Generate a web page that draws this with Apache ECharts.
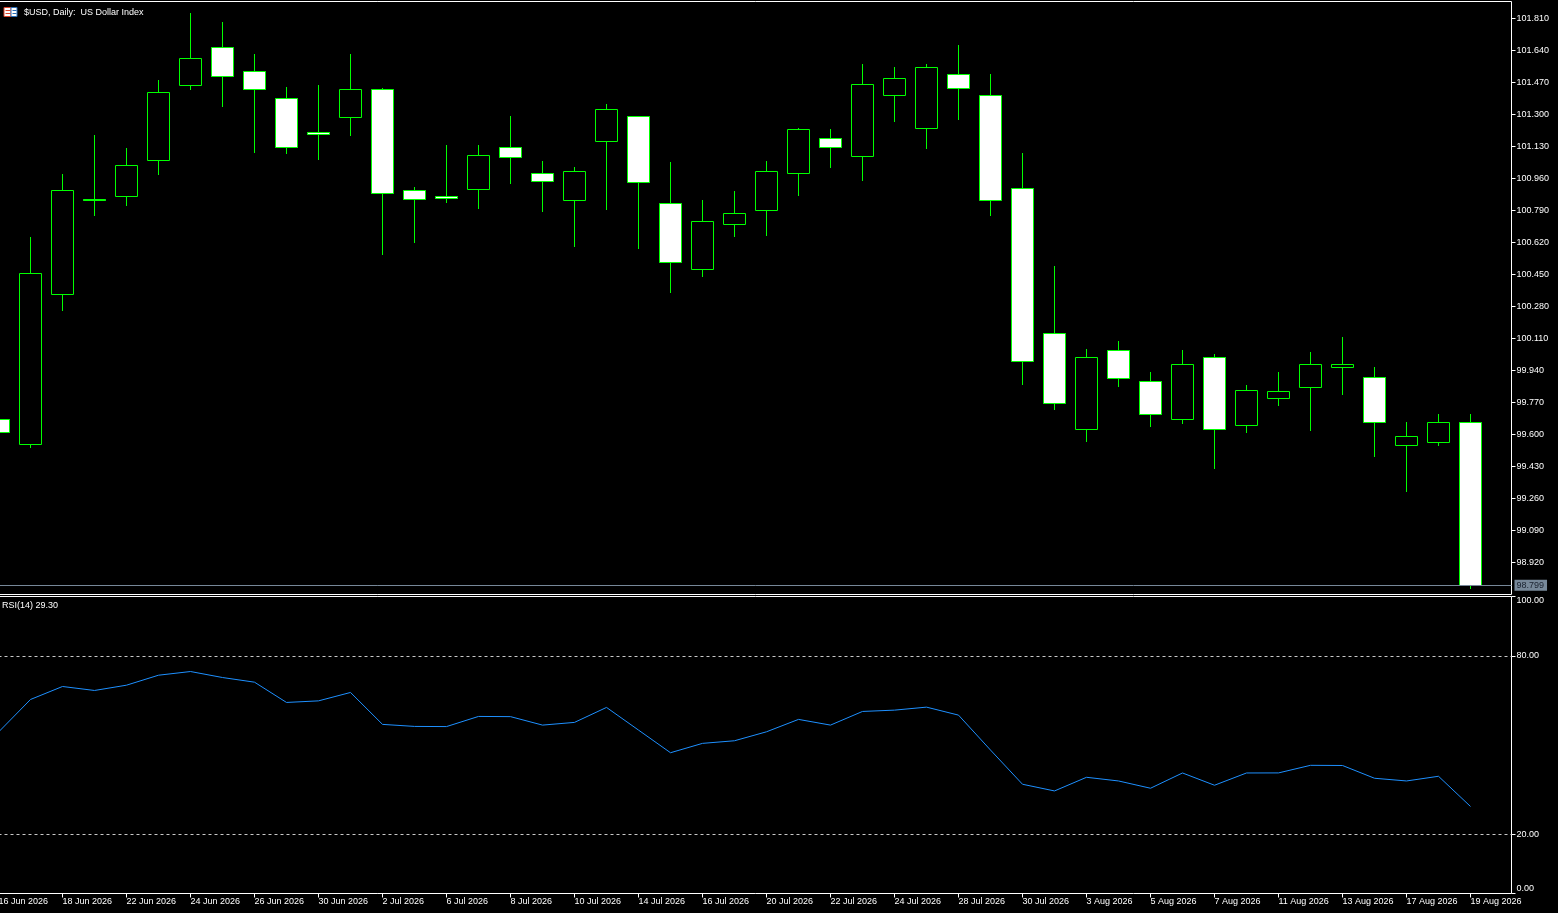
<!DOCTYPE html>
<html>
<head>
<meta charset="utf-8">
<style>
html,body{margin:0;padding:0;background:#000;}
#c{width:1558px;height:913px;}
</style>
<script src="https://cdn.jsdelivr.net/npm/echarts@6/dist/echarts.min.js"></script>
</head>
<body>
<div id="c"></div>
<script>
var dates = ["16 Jun 2026","17 Jun 2026","18 Jun 2026","19 Jun 2026","22 Jun 2026","23 Jun 2026","24 Jun 2026","25 Jun 2026","26 Jun 2026","29 Jun 2026","30 Jun 2026",
"1 Jul 2026","2 Jul 2026","3 Jul 2026","6 Jul 2026","7 Jul 2026","8 Jul 2026","9 Jul 2026","10 Jul 2026","13 Jul 2026","14 Jul 2026","15 Jul 2026","16 Jul 2026","17 Jul 2026",
"20 Jul 2026","21 Jul 2026","22 Jul 2026","23 Jul 2026","24 Jul 2026","27 Jul 2026","28 Jul 2026","29 Jul 2026","30 Jul 2026","31 Jul 2026",
"3 Aug 2026","4 Aug 2026","5 Aug 2026","6 Aug 2026","7 Aug 2026","10 Aug 2026","11 Aug 2026","12 Aug 2026","13 Aug 2026","14 Aug 2026","17 Aug 2026","18 Aug 2026","19 Aug 2026"];

var opens = [99.681,99.549,100.345,100.848,100.865,101.056,101.454,101.656,101.529,101.385,101.205,101.284,101.433,100.897,100.865,100.902,101.125,100.987,100.844,101.157,101.290,100.828,100.478,100.716,100.791,100.987,101.173,101.077,101.401,101.226,101.513,101.401,100.908,100.138,99.628,100.048,99.883,99.681,100.010,99.649,99.793,99.851,99.957,99.904,99.543,99.559,99.665];
var closes = [99.612,100.456,100.897,100.843,101.030,101.417,101.598,101.502,101.433,101.125,101.194,101.433,100.881,100.849,100.852,101.083,101.072,100.945,100.998,101.327,100.939,100.515,100.732,100.775,100.998,101.221,101.125,101.460,101.492,101.550,101.438,100.844,99.989,99.766,100.010,99.899,99.708,99.970,99.628,99.835,99.830,99.973,99.973,99.665,99.591,99.665,98.799];
var highs = [99.700,100.644,100.978,101.185,101.116,101.482,101.833,101.790,101.615,101.440,101.451,101.615,101.435,100.909,101.137,101.132,101.286,101.052,101.019,101.350,101.291,101.042,100.840,100.888,101.047,101.226,101.217,101.567,101.546,101.562,101.663,101.509,101.090,100.490,100.054,100.092,99.927,100.044,100.023,99.858,99.927,100.038,100.113,99.954,99.662,99.709,99.709];
var lows = [99.590,99.530,100.258,100.762,100.815,100.980,101.431,101.341,101.097,101.091,101.059,101.187,100.555,100.619,100.831,100.799,100.932,100.783,100.598,100.794,100.587,100.353,100.438,100.651,100.656,100.868,101.017,100.948,101.261,101.118,101.272,100.762,99.865,99.732,99.562,99.854,99.642,99.658,99.419,99.610,99.753,99.621,99.812,99.483,99.297,99.541,98.782];
var rsi = [54.35,65.33,69.70,68.36,70.14,73.50,74.74,72.72,71.15,64.33,64.86,67.69,56.94,56.26,56.20,59.62,59.55,56.70,57.61,62.65,55.02,47.40,50.55,51.43,54.45,58.62,56.70,61.30,61.74,62.75,60.06,48.30,36.78,34.53,39.13,37.89,35.44,40.58,36.45,40.58,40.60,43.16,43.10,38.80,37.89,39.47,29.30];

var priceTicks = [98.920,99.090,99.260,99.430,99.600,99.770,99.940,100.110,100.280,100.450,100.620,100.790,100.960,101.130,101.300,101.470,101.640,101.810];
var rsiTicks = [0,20,80,100];
var rsiLevels = [80,20];
var dateTicks = dates.map(function(d,i){return i;}).filter(function(i){return i % 2 === 0;});

var FONT = 'Liberation Sans';
var candleData = dates.map(function(d,i){return [i, opens[i], closes[i], lows[i], highs[i]];});
var rsiData = rsi.map(function(v,i){return [i, v];});
var lastClose = closes[closes.length-1];
var lastRsi = rsi[rsi.length-1];

var chart = echarts.init(document.getElementById('c'), null, {renderer:'canvas'});

function renderCandle(params, api){
  var i = api.value(0), o = api.value(1), c = api.value(2), l = api.value(3), h = api.value(4);
  var pO = api.coord([i,o]), pC = api.coord([i,c]), pL = api.coord([i,l]), pH = api.coord([i,h]);
  var cx = Math.round(pO[0]-0.5)+0.5;
  var half = Math.round(api.size([1,0])[0]*0.344);
  var yT = Math.floor(Math.min(pO[1],pC[1]))+0.5;
  var yB = Math.floor(Math.max(pO[1],pC[1]))+0.5;
  var yH = Math.floor(pH[1]);
  var yL = Math.floor(pL[1])+1;
  var bear = c < o;
  return {
    type:'group',
    children:[
      {type:'line', shape:{x1:cx,y1:yH,x2:cx,y2:yL}, style:{stroke:'#00ff00',lineWidth:1}},
      {type:'rect', shape:{x:cx-half,y:yT,width:half*2,height:yB-yT}, style:{fill:bear?'#ffffff':'#000000',stroke:'#00ff00',lineWidth:1}}
    ]
  };
}

var option = {
  backgroundColor:'#000000',
  animation:false,
  grid:[
    {left:-1.5, top:1.5, width:1513, height:593, show:true, borderColor:'#ffffff', borderWidth:1, backgroundColor:'transparent', containLabel:false, outerBoundsMode:'none'},
    {left:-1.5, top:596.5, width:1513, height:297, show:true, borderColor:'#ffffff', borderWidth:1, backgroundColor:'transparent', containLabel:false, outerBoundsMode:'none'}
  ],
  xAxis:[
    {type:'value', gridIndex:0, min:0, max:47.28125, show:false,
      axisLine:{show:false, onZero:false}, axisTick:{show:false}, axisLabel:{show:false}, splitLine:{show:false}},
    {type:'value', gridIndex:1, min:0, max:47.28125,
      axisLine:{show:false, onZero:false},
      splitLine:{show:false},
      axisTick:{show:true, customValues:dateTicks, length:4, inside:false, lineStyle:{color:'#ffffff',width:1}},
      axisLabel:{show:true, customValues:dateTicks, align:'left', margin:4, color:'#ffffff', fontSize:9, fontFamily:FONT,
        hideOverlap:false,
        formatter:function(v){return dates[Math.round(v)] || '';}}
    }
  ],
  yAxis:[
    {type:'value', gridIndex:0, position:'right', min:98.751, max:101.899, scale:true,
      axisLine:{show:false, onZero:false}, splitLine:{show:false},
      axisTick:{show:true, customValues:priceTicks, length:4, inside:false, lineStyle:{color:'#ffffff',width:1}},
      axisLabel:{show:true, customValues:priceTicks, margin:5, color:'#ffffff', fontSize:9, fontFamily:FONT,
        formatter:function(v){return v.toFixed(3);}}
    },
    {type:'value', gridIndex:1, position:'right', min:0, max:100,
      axisLine:{show:false, onZero:false}, splitLine:{show:false},
      axisTick:{show:true, customValues:rsiTicks, length:4, inside:false, lineStyle:{color:'#ffffff',width:1}},
      axisLabel:{show:true, customValues:rsiTicks, margin:5, color:'#ffffff', fontSize:9, fontFamily:FONT,
        verticalAlignMinLabel:'bottom', verticalAlignMaxLabel:'top',
        formatter:function(v){return v.toFixed(2);}}
    }
  ],
  series:[
    {
      type:'custom', name:'USD', xAxisIndex:0, yAxisIndex:0, clip:true,
      data:candleData, encode:{x:0, y:[1,2,3,4]},
      renderItem:renderCandle,
      markLine:{
        silent:true, symbol:['none','none'], animation:false,
        lineStyle:{color:'#778899', type:'solid', width:1},
        label:{show:true, position:'end', distance:3, formatter:lastClose.toFixed(3),
          backgroundColor:'#778899', color:'#1b2330', padding:[1,3,1,2], fontSize:9, fontFamily:FONT},
        data:[{yAxis:lastClose}]
      },
      z:3
    },
    {
      type:'line', name:'RSI(14)', xAxisIndex:1, yAxisIndex:1,
      data:rsiData, symbol:'none', showSymbol:false, clip:true,
      lineStyle:{color:'#1e90ff', width:1},
      markLine:{
        silent:true, symbol:['none','none'], animation:false,
        lineStyle:{color:'#c8c8c8', type:[3,3], width:1},
        label:{show:false},
        data:rsiLevels.map(function(v){return {yAxis:v};})
      }
    }
  ],
  graphic:[
    {type:'group', left:3, top:7, children:[
      {type:'rect', shape:{x:0.5,y:0.5,width:7,height:9}, style:{fill:'#ffffff', stroke:'#d9442b', lineWidth:1}},
      {type:'rect', shape:{x:7.5,y:0.5,width:6,height:9}, style:{fill:'#ffffff', stroke:'#2a6db5', lineWidth:1}},
      {type:'line', shape:{x1:2,y1:3.5,x2:7,y2:3.5}, style:{stroke:'#d9442b', lineWidth:1}},
      {type:'line', shape:{x1:2,y1:6.5,x2:7,y2:6.5}, style:{stroke:'#d9442b', lineWidth:1}},
      {type:'line', shape:{x1:9,y1:3.5,x2:13,y2:3.5}, style:{stroke:'#2a6db5', lineWidth:1}},
      {type:'line', shape:{x1:9,y1:6.5,x2:13,y2:6.5}, style:{stroke:'#2a6db5', lineWidth:1}}
    ]},
    {type:'text', left:24, top:8, style:{text:'$USD, Daily:  US Dollar Index', fill:'#ffffff', font:'9px "Liberation Sans"'}},
    {type:'text', left:2, top:601, style:{text:'RSI(14) ' + lastRsi.toFixed(2), fill:'#ffffff', font:'9px "Liberation Sans"'}}
  ]
};
chart.setOption(option);
</script>
</body>
</html>
